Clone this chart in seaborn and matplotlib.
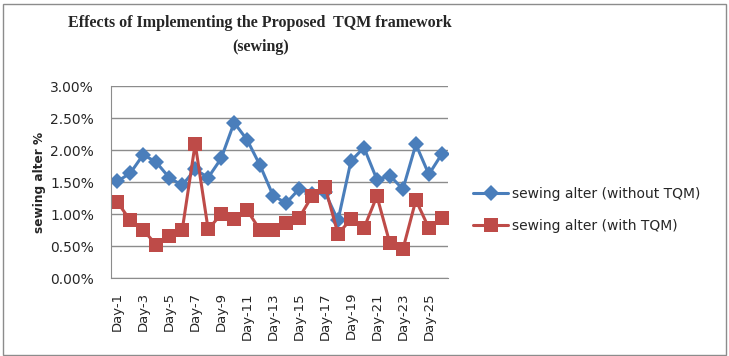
import seaborn as sns
import matplotlib.pyplot as plt
import matplotlib.patches as mpatches
import pandas as pd

days = ["Day-%d" % i for i in range(1, 27)]

# percent values
without_tqm = [1.51, 1.64, 1.93, 1.81, 1.57, 1.45, 1.70, 1.57, 1.87, 2.43,
               2.16, 1.76, 1.29, 1.17, 1.39, 1.32, 1.34, 0.90, 1.83, 2.04,
               1.54, 1.60, 1.39, 2.09, 1.62, 1.94]
with_tqm = [1.19, 0.90, 0.75, 0.52, 0.66, 0.75, 2.10, 0.76, 1.00, 0.92,
            1.06, 0.75, 0.75, 0.86, 0.94, 1.28, 1.43, 0.69, 0.92, 0.78,
            1.28, 0.54, 0.45, 1.22, 0.78, 0.94]

s1 = "sewing alter (without TQM)"
s2 = "sewing alter (with TQM)"

df = pd.DataFrame({
    "day": list(range(26)) * 2,
    "value": without_tqm + with_tqm,
    "series": [s1] * 26 + [s2] * 26,
})

sns.set_style("white")
fig = plt.figure(figsize=(7.29, 3.56), dpi=100)
ax = fig.add_axes([0.152, 0.219, 0.463, 0.539])

sns.lineplot(data=df, x="day", y="value", hue="series", style="series",
             markers={s1: "D", s2: "s"}, dashes=False,
             palette={s1: "#4A7EBB", s2: "#BE4B48"},
             markersize=8.5, markeredgewidth=0, linewidth=2.2, ax=ax)
for line in ax.lines:
    if line.get_marker() == "s":
        line.set_markersize(9.5)

ax.set_xlim(-0.5, 25.5)
ax.set_ylim(0, 3.0)
ax.set_yticks([0, 0.5, 1.0, 1.5, 2.0, 2.5, 3.0])
ax.set_yticklabels(["%.2f%%" % v for v in ax.get_yticks()], fontsize=10)
ax.set_xticks(range(0, 26, 2))
ax.set_xticklabels(days[::2], rotation=90, fontsize=9.5)
ax.tick_params(axis="y", length=0, pad=12)
ax.tick_params(axis="x", length=0, pad=10)
ax.grid(axis="y", color="#8c8c8c", linewidth=1)
ax.set_axisbelow(True)
for side in ["top", "right"]:
    ax.spines[side].set_visible(False)
for side in ["left", "bottom"]:
    ax.spines[side].set_color("#8c8c8c")
ax.set_xlabel("")
ax.set_ylabel("sewing alter %", fontsize=8.7, fontweight="bold", labelpad=3)

leg = ax.legend(title=None, frameon=False, fontsize=10, loc="center left",
                bbox_to_anchor=(1.058, 0.355), labelspacing=1.25,
                handlelength=2.5, handletextpad=0.25, borderaxespad=0)
for h in leg.legend_handles:
    if h.get_marker() == "s":
        h.set_markersize(9.5)

fig.suptitle("Effects of Implementing the Proposed  TQM framework\n(sewing)",
             x=0.357, y=0.957, fontsize=11.5, fontweight="bold",
             family="Liberation Serif", linespacing=1.6)

fig.patches.append(mpatches.Rectangle((0.004, 0.004), 0.992, 0.985,
                                      transform=fig.transFigure, fill=False,
                                      edgecolor="#8c8c8c", linewidth=1))

fig.savefig("out.png", dpi=100)
